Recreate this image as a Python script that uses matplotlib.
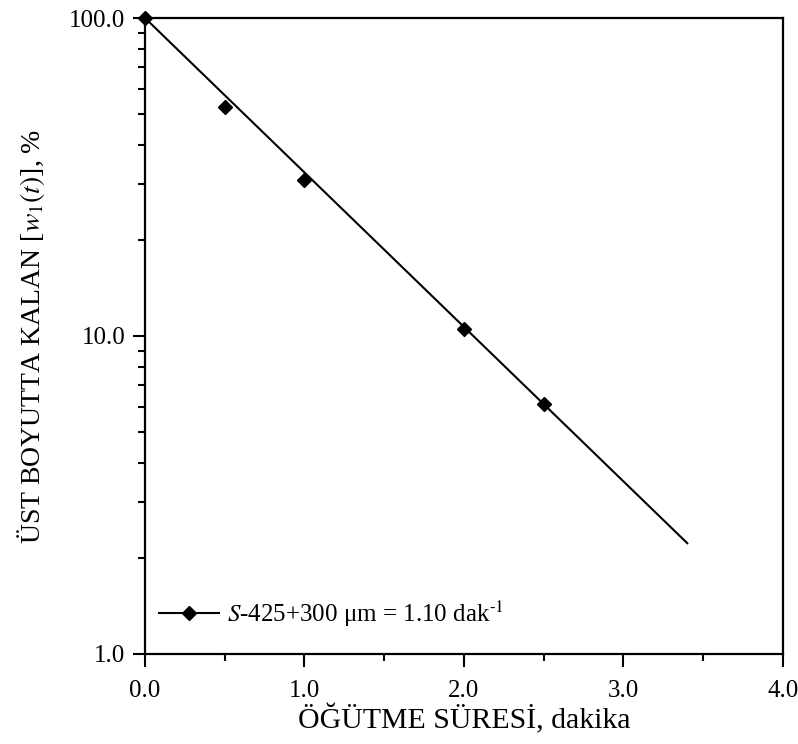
import matplotlib
matplotlib.use('Agg')
import matplotlib.pyplot as plt
from matplotlib.ticker import FixedLocator, FixedFormatter, LogLocator, NullFormatter, MultipleLocator

# data
t_points = [0.0, 0.5, 1.0, 2.0, 2.5]          # grinding time, min
w_points = [100.0, 52.5, 31.0, 10.5, 6.1]     # remaining in top size, %
t_fit = [0.0, 3.4]
w_fit = [100.0, 2.23]

x_ticks = [0.0, 1.0, 2.0, 3.0, 4.0]
x_labels = ['0.0', '1.0', '2.0', '3.0', '4.0']
y_ticks = [1.0, 10.0, 100.0]
y_labels = ['1.0', '10.0', '100.0']

plt.rcParams['font.family'] = ['Liberation Serif', 'DejaVu Serif']
plt.rcParams['mathtext.fontset'] = 'stix'

fig = plt.figure(figsize=(7.98, 7.44), dpi=100)
ax = fig.add_axes([0.1817, 0.121, 0.7995, 0.8548])

# fitted line + measured points (legend shows both as one entry)
ax.plot(t_fit, w_fit, color='black', linewidth=1.5, zorder=2)
ax.plot(t_points, w_points, linestyle='none', marker='D', markersize=7.5,
        color='black', zorder=3, clip_on=False)
handle, = ax.plot([], [], color='black', linewidth=1.5, marker='D', markersize=7.5)

ax.set_yscale('log')
ax.set_xlim(0, 4)
ax.set_ylim(1, 100)

ax.xaxis.set_major_locator(FixedLocator(x_ticks))
ax.xaxis.set_major_formatter(FixedFormatter(x_labels))
ax.xaxis.set_minor_locator(MultipleLocator(0.5))
ax.yaxis.set_major_locator(FixedLocator(y_ticks))
ax.yaxis.set_major_formatter(FixedFormatter(y_labels))
ax.yaxis.set_minor_locator(LogLocator(base=10, subs=range(2, 10)))
ax.yaxis.set_minor_formatter(NullFormatter())

ax.tick_params(which='major', direction='out', length=9, width=1.5, labelsize=18, pad=5)
ax.tick_params(axis='x', which='major', pad=10)
ax.tick_params(which='minor', direction='out', length=5, width=1.5)
ax.tick_params(top=False, right=False)
for s in ax.spines.values():
    s.set_linewidth(1.6)

ax.set_xlabel('ÖĞÜTME SÜRESİ, dakika', fontsize=21.5, labelpad=1)
ax.set_ylabel(r'ÜST BOYUTTA KALAN [$w_\mathrm{1}(t)$], %', fontsize=20, labelpad=16)

ax.legend([handle], [r'$S$-425+300 μm = 1.10 dak$^{\text{-}1}$'], loc='lower left',
          bbox_to_anchor=(-0.018, 0.0), frameon=False, fontsize=18,
          handlelength=2.4, handletextpad=0.35, borderaxespad=0.5, borderpad=0.5)

plt.savefig('out.png', dpi=100)
